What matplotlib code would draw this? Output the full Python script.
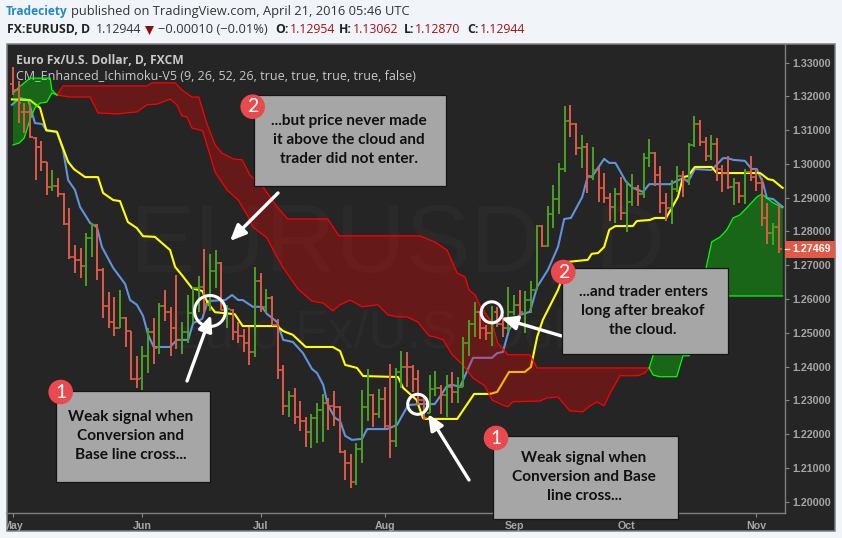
import numpy as np
import matplotlib
matplotlib.use('Agg')
import matplotlib.pyplot as plt
from matplotlib.patches import Rectangle, Circle, Polygon
from matplotlib.transforms import Bbox, blended_transform_factory

# daily bars, one entry per trading day from 1 May
bar_high = [1.3286, 1.3244, 1.3180, 1.3180, 1.3079, 1.3068, 1.3007, 1.2982, 1.2957, 1.2913,
            1.2869, 1.2760, 1.2750, 1.2795, 1.2824, 1.2821, 1.2691, 1.2620, 1.2605, 1.2627,
            1.2548, 1.2504, 1.2430, 1.2462, 1.2513, 1.2543, 1.2587, 1.2627, 1.2576, 1.2671,
            1.2532, 1.2612, 1.2635, 1.2668, 1.2747, 1.2733, 1.2745, 1.2709, 1.2582, 1.2570,
            1.2531, 1.2510, 1.2518, 1.2694, 1.2678, 1.2629, 1.2609, 1.2540, 1.2405, 1.2328,
            1.2336, 1.2298, 1.2250, 1.2259, 1.2291, 1.2319, 1.2306, 1.2328, 1.2284, 1.2153,
            1.2141, 1.2173, 1.2331, 1.2393, 1.2318, 1.2334, 1.2339, 1.2408, 1.2395, 1.2446,
            1.2442, 1.2405, 1.2390, 1.2311, 1.2375, 1.2388, 1.2346, 1.2375, 1.2383, 1.2370,
            1.2489, 1.2538, 1.2590, 1.2563, 1.2523, 1.2579, 1.2577, 1.2553, 1.2637, 1.2612,
            1.2627, 1.2625, 1.2652, 1.2819, 1.2819, 1.2874, 1.2938, 1.3002, 1.3172, 1.3175,
            1.3120, 1.3086, 1.3061, 1.3049, 1.2990, 1.2972, 1.2913, 1.2930, 1.2960, 1.2948,
            1.2970, 1.2938, 1.3031, 1.3073, 1.3034, 1.2994, 1.2913, 1.2952, 1.2994, 1.2979,
            1.3061, 1.3142, 1.3130, 1.3079, 1.3086, 1.3076, 1.2997, 1.3023, 1.2958, 1.2945,
            1.2985, 1.3023, 1.2984, 1.2958, 1.2883, 1.2826, 1.2878]
bar_low = [1.3204, 1.3120, 1.3093, 1.3076, 1.2951, 1.2980, 1.2908, 1.2921, 1.2903, 1.2819,
           1.2719, 1.2678, 1.2661, 1.2639, 1.2723, 1.2655, 1.2543, 1.2513, 1.2492, 1.2513,
           1.2459, 1.2361, 1.2336, 1.2331, 1.2382, 1.2408, 1.2437, 1.2536, 1.2431, 1.2451,
           1.2437, 1.2471, 1.2528, 1.2563, 1.2556, 1.2565, 1.2632, 1.2568, 1.2515, 1.2479,
           1.2469, 1.2444, 1.2405, 1.2429, 1.2563, 1.2558, 1.2523, 1.2362, 1.2257, 1.2250,
           1.2230, 1.2209, 1.2163, 1.2160, 1.2175, 1.2178, 1.2212, 1.2224, 1.2143, 1.2064,
           1.2040, 1.2050, 1.2116, 1.2239, 1.2220, 1.2247, 1.2217, 1.2130, 1.2163, 1.2338,
           1.2341, 1.2326, 1.2286, 1.2242, 1.2262, 1.2313, 1.2260, 1.2252, 1.2291, 1.2293,
           1.2341, 1.2430, 1.2489, 1.2481, 1.2479, 1.2461, 1.2516, 1.2489, 1.2503, 1.2553,
           1.2553, 1.2499, 1.2558, 1.2627, 1.2753, 1.2753, 1.2811, 1.2852, 1.2977, 1.3081,
           1.3026, 1.2989, 1.2915, 1.2952, 1.2886, 1.2883, 1.2831, 1.2824, 1.2834, 1.2799,
           1.2876, 1.2874, 1.2898, 1.2990, 1.2935, 1.2856, 1.2832, 1.2822, 1.2918, 1.2903,
           1.2938, 1.3051, 1.3054, 1.3010, 1.3012, 1.2948, 1.2918, 1.2925, 1.2878, 1.2883,
           1.2881, 1.2948, 1.2921, 1.2817, 1.2763, 1.2760, 1.2735]
bar_open = [1.3237, 1.3219, 1.3155, 1.3153, 1.3076, 1.3049, 1.3005, 1.2931, 1.2935, 1.2910,
            1.2821, 1.2724, 1.2716, 1.2698, 1.2780, 1.2819, 1.2686, 1.2580, 1.2531, 1.2515,
            1.2543, 1.2504, 1.2363, 1.2366, 1.2430, 1.2501, 1.2459, 1.2579, 1.2563, 1.2515,
            1.2479, 1.2501, 1.2558, 1.2632, 1.2635, 1.2585, 1.2684, 1.2706, 1.2558, 1.2568,
            1.2503, 1.2491, 1.2469, 1.2444, 1.2653, 1.2576, 1.2602, 1.2523, 1.2390, 1.2284,
            1.2314, 1.2252, 1.2239, 1.2205, 1.2247, 1.2272, 1.2291, 1.2283, 1.2281, 1.2146,
            1.2114, 1.2059, 1.2156, 1.2281, 1.2316, 1.2260, 1.2304, 1.2224, 1.2180, 1.2383,
            1.2400, 1.2400, 1.2363, 1.2301, 1.2264, 1.2333, 1.2336, 1.2316, 1.2341, 1.2326,
            1.2341, 1.2469, 1.2525, 1.2563, 1.2513, 1.2499, 1.2563, 1.2526, 1.2513, 1.2563,
            1.2582, 1.2556, 1.2597, 1.2627, 1.2816, 1.2758, 1.2852, 1.2896, 1.2985, 1.3128,
            1.3118, 1.3046, 1.3049, 1.2964, 1.2982, 1.2930, 1.2900, 1.2871, 1.2911, 1.2856,
            1.2888, 1.2930, 1.2911, 1.3017, 1.3033, 1.2967, 1.2883, 1.2870, 1.2926, 1.2964,
            1.2952, 1.3056, 1.3118, 1.3066, 1.3022, 1.3058, 1.2985, 1.2972, 1.2931, 1.2943,
            1.2905, 1.2975, 1.2960, 1.2943, 1.2839, 1.2795, 1.2814]
bar_close = [1.3219, 1.3180, 1.3153, 1.3079, 1.3049, 1.3005, 1.2931, 1.2935, 1.2910, 1.2821,
             1.2724, 1.2716, 1.2698, 1.2780, 1.2819, 1.2686, 1.2580, 1.2531, 1.2515, 1.2543,
             1.2504, 1.2363, 1.2362, 1.2430, 1.2501, 1.2454, 1.2579, 1.2563, 1.2515, 1.2479,
             1.2501, 1.2558, 1.2632, 1.2635, 1.2585, 1.2684, 1.2706, 1.2568, 1.2570, 1.2503,
             1.2491, 1.2469, 1.2444, 1.2653, 1.2576, 1.2602, 1.2523, 1.2390, 1.2284, 1.2314,
             1.2252, 1.2239, 1.2205, 1.2247, 1.2272, 1.2291, 1.2283, 1.2281, 1.2146, 1.2114,
             1.2059, 1.2156, 1.2281, 1.2316, 1.2260, 1.2304, 1.2224, 1.2180, 1.2383, 1.2400,
             1.2399, 1.2363, 1.2301, 1.2247, 1.2333, 1.2336, 1.2316, 1.2341, 1.2326, 1.2341,
             1.2469, 1.2525, 1.2563, 1.2513, 1.2499, 1.2526, 1.2526, 1.2513, 1.2563, 1.2582,
             1.2563, 1.2597, 1.2627, 1.2816, 1.2758, 1.2852, 1.2896, 1.2985, 1.3128, 1.3118,
             1.3046, 1.3049, 1.2964, 1.2982, 1.2930, 1.2900, 1.2871, 1.2911, 1.2856, 1.2888,
             1.2930, 1.2911, 1.3017, 1.3033, 1.2967, 1.2883, 1.2870, 1.2926, 1.2964, 1.2952,
             1.3056, 1.3118, 1.3066, 1.3022, 1.3058, 1.2985, 1.2972, 1.2931, 1.2943, 1.2905,
             1.2975, 1.2960, 1.2943, 1.2839, 1.2795, 1.2814, 1.27469]

# conversion line (blue)
conv_x = [-0.2, 1.2, 2.7, 3.9, 5.2, 6.0, 7.8, 8.9, 9.8, 11.0, 11.9, 13.7, 14.9, 15.8, 17.8, 19.9,
          20.8, 22.0, 23.1, 24.0, 25.0, 27.9, 29.1, 31.1, 32.0, 33.6, 34.6, 37.7, 38.9, 40.0, 40.8,
          42.6, 44.2, 45.1, 46.9, 48.0, 49.7, 51.5, 53.1, 54.0, 55.1, 55.9, 57.2, 58.1, 59.0, 60.2,
          62.0, 62.9, 66.4, 68.2, 69.1, 70.2, 72.3, 74.9, 75.8, 77.1, 78.0, 79.4, 81.7, 85.1, 86.0,
          87.0, 88.1, 89.2, 90.0, 91.8, 93.1, 95.0, 96.8, 97.9, 99.1, 101.1, 102.1, 102.8, 105.0,
          105.9, 107.0, 108.9, 110.1, 111.9, 113.0, 116.7, 119.0, 119.9, 121.1, 124.1, 126.1, 127.0,
          127.9, 130.0, 131.2, 132.1, 133.2, 133.9, 135.0, 136.7]
conv_y = [1.3175, 1.3195, 1.3189, 1.3121, 1.3118, 1.3098, 1.3095, 1.3041, 1.2952, 1.2923, 1.2873,
          1.2825, 1.2813, 1.2754, 1.2692, 1.2645, 1.2597, 1.2583, 1.2550, 1.2494, 1.2458, 1.2458,
          1.2479, 1.2479, 1.2529, 1.2541, 1.2594, 1.2597, 1.2612, 1.2597, 1.2597, 1.2577, 1.2577,
          1.2556, 1.2532, 1.2479, 1.2473, 1.2440, 1.2393, 1.2381, 1.2346, 1.2287, 1.2248, 1.2239,
          1.2195, 1.2183, 1.2186, 1.2215, 1.2215, 1.2227, 1.2254, 1.2286, 1.2289, 1.2289, 1.2310,
          1.2343, 1.2346, 1.2340, 1.2426, 1.2426, 1.2440, 1.2443, 1.2509, 1.2538, 1.2553, 1.2562,
          1.2636, 1.2686, 1.2754, 1.2837, 1.2840, 1.2902, 1.2964, 1.2961, 1.3015, 1.3003, 1.3003,
          1.2947, 1.2929, 1.2917, 1.2940, 1.2940, 1.2958, 1.2947, 1.2985, 1.2982, 1.3017, 1.3017,
          1.3012, 1.3009, 1.2985, 1.2985, 1.2944, 1.2899, 1.2896, 1.2873]

# base line (yellow)
base_x = [-0.2, 3.0, 4.8, 5.9, 7.8, 9.8, 10.8, 12.8, 15.1, 16.0, 17.8, 19.0, 20.4, 22.0, 23.1, 25.2,
          27.9, 28.8, 30.0, 31.8, 33.6, 34.6, 35.9, 39.4, 40.8, 46.9, 48.0, 49.7, 52.0, 56.8, 58.1,
          59.0, 61.1, 62.2, 68.4, 69.3, 71.7, 72.8, 73.2, 78.9, 81.9, 84.7, 86.0, 88.1, 90.9, 92.0,
          93.1, 94.1, 96.8, 98.6, 102.1, 102.8, 103.9, 105.0, 105.9, 107.0, 110.1, 110.8, 113.1,
          114.0, 116.0, 118.1, 119.0, 119.9, 121.1, 124.1, 125.0, 132.7, 134.1, 135.0, 136.7]
base_y = [1.3191, 1.3189, 1.3166, 1.3100, 1.3095, 1.3006, 1.2985, 1.2961, 1.2961, 1.2914, 1.2893,
          1.2890, 1.2828, 1.2810, 1.2786, 1.2784, 1.2745, 1.2695, 1.2671, 1.2632, 1.2624, 1.2588,
          1.2561, 1.2555, 1.2520, 1.2520, 1.2505, 1.2494, 1.2458, 1.2458, 1.2446, 1.2405, 1.2396,
          1.2372, 1.2369, 1.2337, 1.2301, 1.2248, 1.2245, 1.2245, 1.2319, 1.2319, 1.2325, 1.2384,
          1.2384, 1.2399, 1.2488, 1.2538, 1.2627, 1.2710, 1.2716, 1.2734, 1.2736, 1.2754, 1.2805,
          1.2816, 1.2816, 1.2831, 1.2834, 1.2840, 1.2840, 1.2902, 1.2961, 1.2964, 1.2991, 1.2991,
          1.2973, 1.2973, 1.2955, 1.2952, 1.2929]

# ichimoku cloud edges
red_top_x = [7.8, 8.9, 23.8, 24.7, 28.8, 30.0, 31.8, 33.0, 34.4, 35.9, 37.1, 39.1, 40.7, 42.1, 44.4,
             46.9, 48.8, 55.9, 57.9, 72.3, 74.9, 77.1, 78.9, 80.3, 81.0, 82.1, 82.9, 85.1, 86.1,
             87.9, 91.8, 93.1, 111.9, 113.0]
red_top_y = [1.3204, 1.3231, 1.3231, 1.3240, 1.3240, 1.3219, 1.3198, 1.3198, 1.3121, 1.3056, 1.3032,
             1.3015, 1.3012, 1.2967, 1.2932, 1.2873, 1.2837, 1.2837, 1.2787, 1.2787, 1.2769, 1.2745,
             1.2677, 1.2665, 1.2627, 1.2612, 1.2582, 1.2529, 1.2470, 1.2435, 1.2435, 1.2396, 1.2396,
             1.2396]
red_bot_x = [7.8, 10.1, 13.7, 15.1, 18.5, 22.0, 23.8, 25.6, 27.9, 29.1, 30.0, 30.9, 31.8, 33.7, 35.9,
             38.0, 40.0, 41.6, 42.6, 45.1, 46.5, 48.0, 50.6, 53.1, 55.1, 56.8, 58.1, 59.9, 62.0,
             64.8, 66.6, 68.4, 70.0, 71.9, 73.9, 74.9, 76.4, 78.0, 79.9, 81.7, 83.8, 85.1, 87.0,
             87.9, 88.8, 93.6, 94.8, 96.8, 98.9, 101.2, 102.5, 103.7, 105.0, 106.0, 107.8, 111.0,
             112.2, 113.0]
red_bot_y = [1.3204, 1.3198, 1.3198, 1.3151, 1.3148, 1.3154, 1.3175, 1.3177, 1.3192, 1.3175, 1.3142,
             1.3139, 1.3106, 1.3098, 1.2976, 1.2923, 1.2893, 1.2849, 1.2813, 1.2781, 1.2736, 1.2692,
             1.2630, 1.2594, 1.2588, 1.2565, 1.2583, 1.2597, 1.2577, 1.2583, 1.2553, 1.2547, 1.2547,
             1.2532, 1.2491, 1.2488, 1.2479, 1.2435, 1.2405, 1.2366, 1.2343, 1.2301, 1.2286, 1.2281,
             1.2296, 1.2298, 1.2307, 1.2310, 1.2269, 1.2266, 1.2284, 1.2295, 1.2284, 1.2319, 1.2373,
             1.2373, 1.2381, 1.2396]
green1_top_x = [0.0, 1.1, 2.0, 3.0, 6.6, 6.9, 7.8]
green1_top_y = [1.3210, 1.3228, 1.3240, 1.3254, 1.3254, 1.3219, 1.3204]
green1_bot_x = [0.0, 1.1, 2.0, 3.0, 3.9, 4.8, 6.0, 6.9, 7.8]
green1_bot_y = [1.3056, 1.3062, 1.3077, 1.3130, 1.3166, 1.3180, 1.3183, 1.3210, 1.3204]
green2_top_x = [113.0, 113.7, 123.1, 124.1, 125.6, 126.8, 127.9, 129.1, 130.5, 132.1, 133.0, 133.9,
                135.0, 136.7]
green2_top_y = [1.2396, 1.2434, 1.2692, 1.2769, 1.2784, 1.2805, 1.2840, 1.2849, 1.2873, 1.2902,
                1.2911, 1.2899, 1.2885, 1.2870]
green2_bot_x = [113.0, 113.7, 114.9, 117.9, 119.0, 120.1, 124.7, 136.7]
green2_bot_y = [1.2396, 1.2375, 1.2370, 1.2370, 1.2432, 1.2432, 1.2609, 1.2609]

price_ticks = [1.20, 1.21, 1.22, 1.23, 1.24, 1.25, 1.26, 1.27, 1.28, 1.29, 1.30, 1.31, 1.32, 1.33]
month_pos = [0, 23, 44, 66, 89, 109, 132]
month_lbl = ['May', 'Jun', 'Jul', 'Aug', 'Sep', 'Oct', 'Nov']
last_price = 1.27469

W, H = 842, 538
BG = '#f1f5f9'
DARK = '#252525'
RED = '#e05a47'
GREEN = '#4aa122'
HEAD = 'Open Sans'
NOTE = 'Lato'
AXF = 'Liberation Sans'

fig = plt.figure(figsize=(W / 100, H / 100), dpi=100, facecolor=BG)


def px_axes(zorder):
    a = fig.add_axes([0, 0, 1, 1], zorder=zorder)
    a.set_xlim(0, W)
    a.set_ylim(H, 0)
    a.axis('off')
    return a


back = px_axes(0)
over = px_axes(2)

# frame, watermark and header text
back.add_patch(Rectangle((6.5, 43.5), 828.5, 487.5, fc=DARK, ec='#808080', lw=1.1))
back.text(397, 247, 'EURUSD, D', color='#2a2a2a', family=AXF, fontsize=70, ha='center', va='center')
back.text(396, 334, 'Euro Fx/U.S. Dollar', color='#2a2a2a', family=AXF, fontsize=38, ha='center', va='center')
back.text(15.5, 60.5, 'Euro Fx/U.S. Dollar, D, FXCM', color='#c8c8c8', family=HEAD, weight='bold',
          fontsize=8.75, va='center')
back.text(15.5, 77, 'CM_Enhanced_Ichimoku-V5 (9, 26, 52, 26, true, true, true, true, false)',
          color='#c8c8c8', family=HEAD, fontsize=9, va='center')

back.text(6, 11.5, 'Tradeciety', color='#1e8ac4', family=HEAD, weight='bold', fontsize=8.6, va='center')
back.text(71, 11.5, 'published on TradingView.com, April 21, 2016 05:46 UTC', color='#333333',
          family=HEAD, fontsize=9.28, va='center')
dark_red = '#a31212'
header = [(7, 'FX:EURUSD, D', '#222222', 'bold', 8.8), (96, '1.12944', '#333333', 'normal', 8.8),
          (158, '\u22120.00010 (\u22120.01%)', '#333333', 'normal', 9.3), (275, 'O:', '#222222', 'bold', 8.8),
          (290, '1.12954', dark_red, 'normal', 8.8), (339, 'H:', '#222222', 'bold', 8.8),
          (353, '1.13062', dark_red, 'normal', 8.8), (404, 'L:', '#222222', 'bold', 8.8),
          (415, '1.12870', dark_red, 'normal', 8.8), (467, 'C:', '#222222', 'bold', 8.8),
          (480, '1.12944', dark_red, 'normal', 8.8)]
for hx, htxt, hcol, hw, hs in header:
    back.text(hx, 29.5, htxt, color=hcol, family=HEAD, weight=hw, fontsize=hs, va='center')
back.add_patch(Polygon([(145, 26), (154, 26), (149.5, 35)], fc='#8b0f0f', ec='none'))

# price chart
ax = fig.add_axes([6.5 / W, 1 - 512.5 / H, (785 - 6.5) / W, (512.5 - 43.5) / H], zorder=1)
ax.patch.set_alpha(0)

ax.plot(conv_x, conv_y, color='#5f94dd', lw=1.5, zorder=2)
ax.plot(base_x, base_y, color='#ffff00', lw=1.5, zorder=2.1)

for tx, ty, bx, by, col in [(red_top_x, red_top_y, red_bot_x, red_bot_y, 'red'),
                            (green1_top_x, green1_top_y, green1_bot_x, green1_bot_y, 'lime'),
                            (green2_top_x, green2_top_y, green2_bot_x, green2_bot_y, 'lime')]:
    ax.fill(np.r_[tx, bx[::-1]], np.r_[ty, by[::-1]], fc=col, alpha=0.3, ec='none', zorder=3)
    ax.plot(tx, ty, color=col, lw=0.9, zorder=3.1)
    ax.plot(bx, by, color=col, lw=0.9, zorder=3.1)

idx = np.arange(len(bar_close))
bar_col = [GREEN if c >= o else RED for o, c in zip(bar_open, bar_close)]
ax.vlines(idx, bar_low, bar_high, colors=bar_col, lw=1.4, zorder=4)
ax.hlines(bar_open, idx - 0.5, idx, colors=bar_col, lw=1.2, zorder=4)
ax.hlines(bar_close, idx, idx + 0.5, colors=bar_col, lw=1.2, zorder=4)

ax.set_xlim(-1.155, 137.12)
ax.set_ylim(1.1968, 1.33565)
for side in ('left', 'top'):
    ax.spines[side].set_visible(False)
for side in ('right', 'bottom'):
    ax.spines[side].set_color('#7f7f7f')
    ax.spines[side].set_linewidth(1)

ax.yaxis.tick_right()
ax.set_yticks(price_ticks, [f'{v:.5f}' for v in price_ticks])
ax.set_xticks(month_pos, month_lbl)
ax.tick_params(axis='y', length=3, width=0.8, color='#8a8a8a', pad=2.2, labelsize=7.7, labelcolor='#a6a6a6')
ax.tick_params(axis='x', length=3, width=0.8, color='#8a8a8a', pad=3, labelsize=7.7, labelcolor='#a6a6a6')
frame_clip = Bbox([[7, 0], [834, H]])
for lab in ax.get_xticklabels() + ax.get_yticklabels():
    lab.set_family(AXF)
    lab.set_weight('bold')
    lab.set_clip_box(frame_clip)
    lab.set_clip_on(True)

# last price tag
tag_tr = blended_transform_factory(ax.transAxes, ax.transData)
ax.add_patch(Rectangle((1.0, last_price - 0.0024), 50 / 778.5, 0.0048, transform=tag_tr, fc=RED, ec='none',
                       clip_on=False, zorder=6))
ax.plot([1.0, 1 + 4 / 778.5], [last_price, last_price], transform=tag_tr, color='white', lw=0.9,
        clip_on=False, zorder=7)
ax.text(1 + 7 / 778.5, last_price, f'{last_price:.5f}', transform=tag_tr, color='white', family=AXF,
        weight='bold', fontsize=7.7, va='center', zorder=7)

# notes on top of the chart
notes = [((254, 95), 192, 91, 349, [121, 140, 159],
          ['...but price never made', 'it above the cloud and', 'trader did not enter.'], (252.7, 106.7), '2'),
         ((55.5, 390.7), 154, 91.3, 131, [417, 436, 455],
          ['Weak signal when', 'Conversion and', 'Base line cross...'], (60.7, 392), '1'),
         ((561.7, 268.3), 166.3, 85.7, 643, [292, 311, 330],
          ['...and trader enters', 'long after breakof', 'the cloud.'], (563.3, 272), '2'),
         ((493, 436.3), 185, 82.7, 584, [458, 477, 496],
          ['Weak signal when', 'Conversion and Base', 'line cross...'], (496, 438), '1')]
for xy, bw, bh, tx, tys, lines, bc, num in notes:
    over.add_patch(Rectangle(xy, bw, bh, fc='#a6a6a6', ec='#151515', lw=0.9, zorder=3))
    for ty, line in zip(tys, lines):
        over.text(tx, ty, line, color='#111111', family=NOTE, weight='bold', fontsize=11.1,
                  ha='center', va='center', zorder=4)
    over.add_patch(Circle(bc, 12.3, fc='#ea4a4e', ec='none', zorder=5))
    over.text(bc[0], bc[1], num, color='white', family=NOTE, fontsize=14, ha='center', va='center', zorder=6)

for cxy, rad in [((210, 311), 15.5), ((417.7, 404.3), 10), ((491.7, 312.3), 10.5)]:
    over.add_patch(Circle(cxy, rad, fc='none', ec='white', lw=2.2, zorder=2))

for tail, tip in [((278, 193), (230, 241)), ((187, 381), (211, 315)),
                  ((561.7, 336), (501, 318)), ((469, 480), (428, 414))]:
    over.annotate('', xy=tip, xytext=tail, zorder=2.5,
                  arrowprops=dict(arrowstyle='-|>,head_width=0.42,head_length=0.95', lw=2.4, color='white',
                                  shrinkA=0, shrinkB=0, capstyle='round'))

fig.savefig('out.png', dpi=100, facecolor=BG)
